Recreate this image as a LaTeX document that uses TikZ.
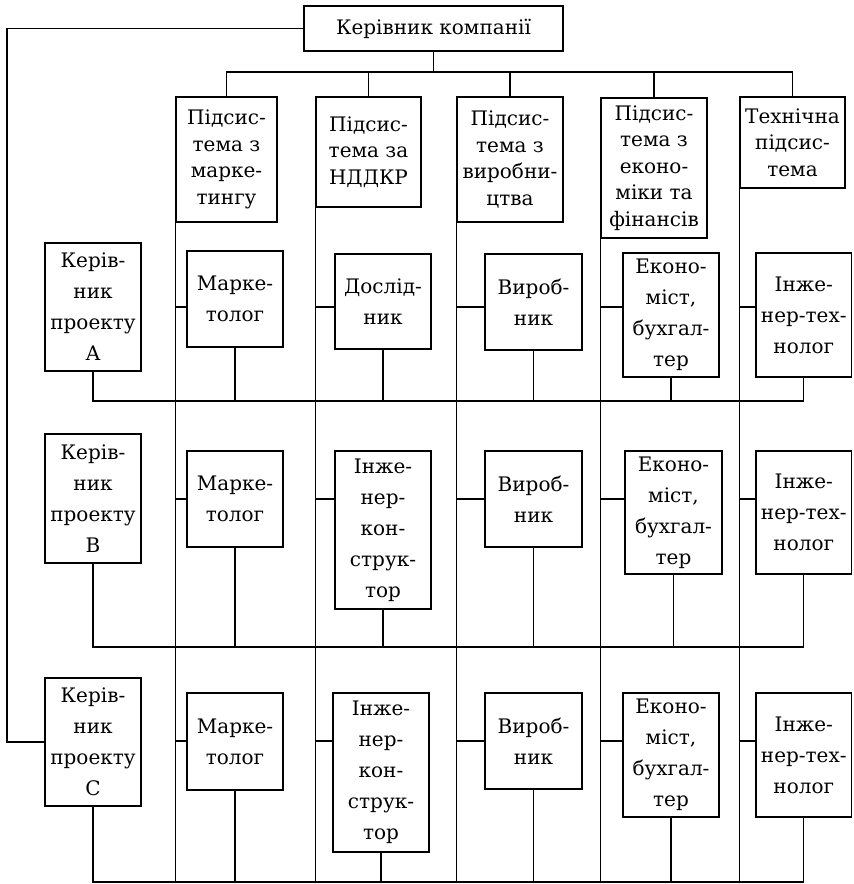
\documentclass[tikz,border=0pt]{standalone}
\usepackage{fontspec}
\setmainfont{DejaVu Serif}
\begin{document}
\begin{tikzpicture}[x=0.5pt,y=-0.5pt,
  box/.style={draw, line width=0.7pt, inner sep=0pt, align=center, font=\fontsize{10}{\bls}\selectfont},
  ln/.style={line width=0.7pt}]
\useasboundingbox (0,0) rectangle (853,884);
\newcommand\bx[6]{\node[box, minimum width={(#4-#2)*0.5pt}, minimum height={(#5-#3)*0.5pt}] (#1) at ({(#2+#4)/2},{(#3+#5)/2}) {#6};}
% top
\def\bls{13.3pt}
\bx{boss}{304}{6}{563}{51}{Керівник компанії}
\bx{s1}{176}{97}{277}{222}{Підсис-\\тема з\\марке-\\тингу}
\bx{s2}{316}{97}{421}{207}{Підсис-\\тема за\\НДДКР}
\bx{s3}{457}{97}{563}{222}{Підсис-\\тема з\\виробни-\\цтва}
\bx{s4}{601}{98}{707}{238}{Підсис-\\тема з\\еконо-\\міки та\\фінансів}
\bx{s5}{740}{97}{845}{188}{Технічна\\підсис-\\тема}
\def\bls{15.5pt}
% row A
\bx{kA}{45}{243}{141}{371}{Керів-\\ник\\проекту\\A}
\bx{mA}{187}{251}{283}{347}{Марке-\\толог}
\bx{dA}{335}{254}{431}{349}{Дослід-\\ник}
\bx{vA}{485}{254}{582}{350}{Вироб-\\ник}
\bx{eA}{623}{253}{719}{377}{Еконо-\\міст,\\бухгал-\\тер}
\bx{iA}{756}{253}{851.5}{377}{Інже-\\нер-тех-\\нолог}
% row B
\bx{kB}{45}{434}{141}{563}{Керів-\\ник\\проекту\\B}
\bx{mB}{187}{451}{283}{547}{Марке-\\толог}
\bx{cB}{335}{451}{431}{609}{Інже-\\нер-\\кон-\\струк-\\тор}
\bx{vB}{485}{451}{582}{547}{Вироб-\\ник}
\bx{eB}{625}{451}{722}{574}{Еконо-\\міст,\\бухгал-\\тер}
\bx{iB}{756}{451}{851.5}{574}{Інже-\\нер-тех-\\нолог}
% row C
\bx{kC}{45}{678}{141}{806}{Керів-\\ник\\проекту\\C}
\bx{mC}{187}{693}{283}{790}{Марке-\\толог}
\bx{cC}{333}{693}{429}{852}{Інже-\\нер-\\кон-\\струк-\\тор}
\bx{vC}{485}{693}{582}{789}{Вироб-\\ник}
\bx{eC}{623}{693}{719}{817}{Еконо-\\міст,\\бухгал-\\тер}
\bx{iC}{756}{693}{851.5}{817}{Інже-\\нер-тех-\\нолог}
% helper coordinates
\coordinate (L) at (7,28.5);
\coordinate (busT) at (0,72);
\coordinate (bot) at (0,882);
\coordinate (rowA) at (0,307);
\coordinate (rowB) at (0,499);
\coordinate (rowC) at (0,741);
\coordinate (busA) at (0,401);
\coordinate (busB) at (0,647);
\coordinate (busC) at (0,882);
% boss to project managers
\draw[ln] (boss.west) -- (L) |- (kC.west);
% boss to subsystems
\draw[ln] (boss.south) -- (boss.south |- busT);
\draw[ln] (s1.north) -- (s1.north |- busT) -- (s5.north |- busT) -- (s5.north);
\foreach \s in {s2,s3,s4} \draw[ln] (\s.north) -- (\s.north |- busT);
% column lines
\foreach \s in {s1,s2,s3,s4,s5} \draw[ln] (\s.south west) -- (\s.south west |- bot);
% stubs
\foreach \s/\b in {s1/mA,s2/dA,s3/vA,s4/eA,s5/iA} \draw[ln] (\s.south west |- rowA) -- (\b.west |- rowA);
\foreach \s/\b in {s1/mB,s2/cB,s3/vB,s4/eB,s5/iB} \draw[ln] (\s.south west |- rowB) -- (\b.west |- rowB);
\foreach \s/\b in {s1/mC,s2/cC,s3/vC,s4/eC,s5/iC} \draw[ln] (\s.south west |- rowC) -- (\b.west |- rowC);
% buses
\draw[ln] (kA.south) |- (iA.south |- busA) -- (iA.south);
\foreach \b in {mA,dA,vA,eA} \draw[ln] (\b.south) -- (\b.south |- busA);
\draw[ln] (kB.south) |- (iB.south |- busB) -- (iB.south);
\foreach \b in {mB,cB,vB,eB} \draw[ln] (\b.south) -- (\b.south |- busB);
\draw[ln] (kC.south) |- (iC.south |- busC) -- (iC.south);
\foreach \b in {mC,cC,vC,eC} \draw[ln] (\b.south) -- (\b.south |- busC);
\end{tikzpicture}
\end{document}
